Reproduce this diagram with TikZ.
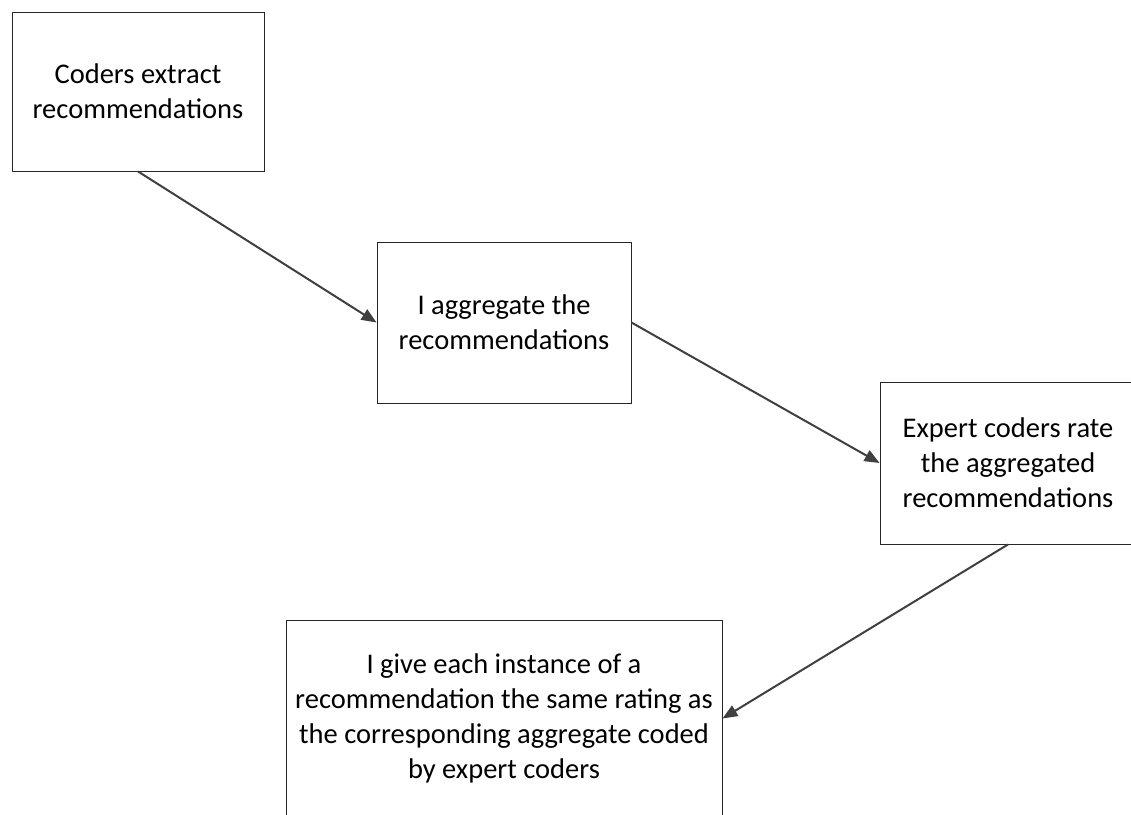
\documentclass[tikz,border=0pt]{standalone}
\usepackage{fontspec}
\setmainfont{Carlito}
\usetikzlibrary{arrows.meta}
\begin{document}
\begin{tikzpicture}[x=1pt,y=-1pt,
  stepbox/.style={draw=black!85,line width=0.9pt,fill=white,align=center,
    inner sep=0pt,font=\fontsize{28.5}{35}\selectfont},
  flow/.style={draw=black!75,line width=2pt,
    -{Triangle[length=15pt,width=12pt]}}]
  \useasboundingbox (0,0) rectangle (1131,814);
  \clip (0,0) rectangle (1131,814);
  \fill[white] (0,0) rectangle (1131,814);

  \node[stepbox,minimum width=252pt,minimum height=159pt] (extract) at (138,91.5)
    {Coders extract\\recommendations};
  \node[stepbox,minimum width=254pt,minimum height=161pt] (aggregate) at (504,322.5)
    {I aggregate the\\recommendations};
  \node[stepbox,minimum width=256pt,minimum height=162pt] (rate) at (1008,463)
    {Expert coders rate\\the aggregated\\recommendations};
  \node[stepbox,minimum width=436pt,minimum height=197pt] (assign) at (504,718.5)
    {I give each instance of a\\recommendation the same rating as\\the corresponding aggregate coded\\by expert coders};

  \draw[flow] (extract.south) -- (aggregate.west);
  \draw[flow] (aggregate.east) -- (rate.west);
  \draw[flow] (rate.south) -- (assign.east);
\end{tikzpicture}
\end{document}
